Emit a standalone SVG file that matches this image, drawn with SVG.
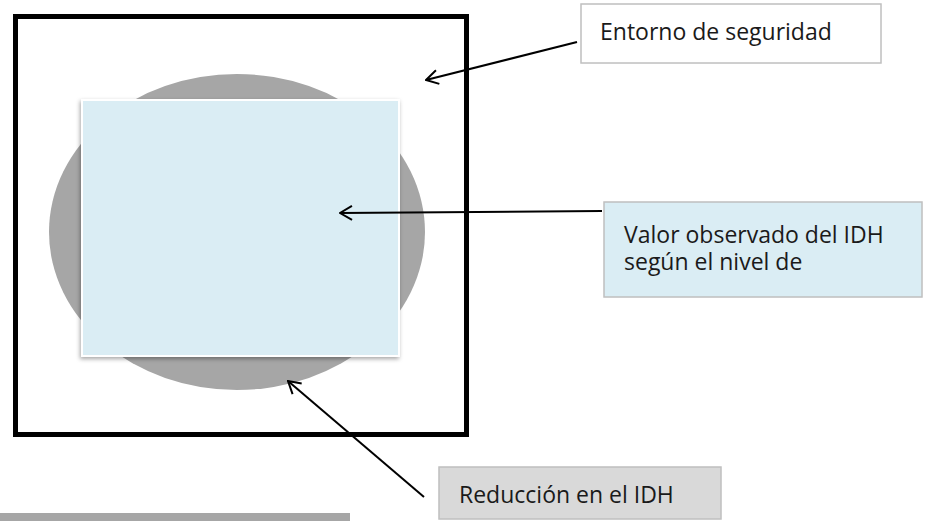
<svg xmlns="http://www.w3.org/2000/svg" width="932" height="521" viewBox="0 0 932 521">
  <style>
    .lbl { font-family: "Open Sans", "Noto Sans", "Liberation Sans", sans-serif; font-size: 23px; fill: #1a1a1a; }
    .conn { stroke: #000; stroke-width: 2; fill: none; }
  </style>
  <defs>
    <marker id="open" viewBox="0 0 16 16" refX="15" refY="8" markerWidth="16" markerHeight="16" markerUnits="userSpaceOnUse" orient="auto">
      <polyline points="3,1 15,8 3,15" fill="none" stroke="#000" stroke-width="2"/>
    </marker>
    <filter id="shadow" x="-10%" y="-10%" width="120%" height="120%">
      <feDropShadow dx="-1" dy="2" stdDeviation="2" flood-color="#000" flood-opacity="0.35"/>
    </filter>
  </defs>
  <rect width="932" height="521" fill="#fff"/>

  <g id="frame">
    <rect x="15.5" y="16.5" width="451" height="418" fill="none" stroke="#000" stroke-width="5"/>
  </g>
  <g id="reduction-disc">
    <ellipse cx="237" cy="232" rx="188" ry="158" fill="#a6a6a6"/>
  </g>
  <g id="observed-square">
    <rect x="82" y="100" width="317" height="256" fill="#daedf4" stroke="#fff" stroke-width="2" filter="url(#shadow)"/>
  </g>
  <g id="bottom-bar">
    <rect x="0" y="513" width="350" height="8" fill="#a6a6a6"/>
  </g>

  <g id="node-entorno">
    <rect x="581" y="4" width="300" height="59" fill="#fff" stroke="#bfbfbf" stroke-width="1.5"/>
    <text class="lbl" x="600" y="40">Entorno de seguridad</text>
  </g>
  <g id="node-valor">
    <rect x="604" y="202" width="318" height="95" fill="#daedf4" stroke="#bfbfbf" stroke-width="1.5"/>
    <text class="lbl" x="624" y="243">Valor observado del IDH</text>
    <text class="lbl" x="624" y="270">según el nivel de</text>
  </g>
  <g id="node-reduccion">
    <rect x="439" y="467" width="282" height="52" fill="#d9d9d9" stroke="#bfbfbf" stroke-width="1.5"/>
    <text class="lbl" x="459" y="503">Reducción en el IDH</text>
  </g>

  <g id="connectors">
    <line class="conn" x1="577" y1="42" x2="426" y2="80" marker-end="url(#open)"/>
    <line class="conn" x1="602" y1="211" x2="340" y2="213" marker-end="url(#open)"/>
    <line class="conn" x1="424" y1="497" x2="288" y2="381" marker-end="url(#open)"/>
  </g>
</svg>
